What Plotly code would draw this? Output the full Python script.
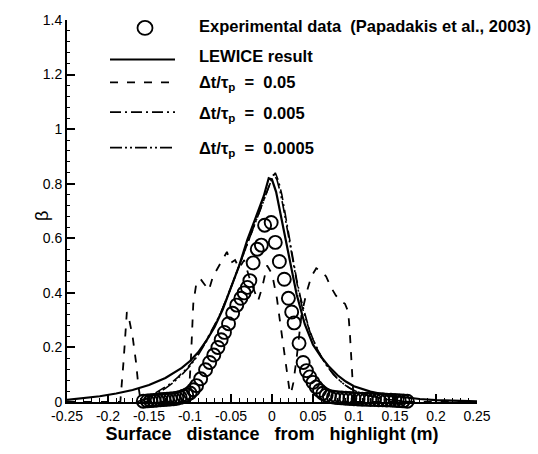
import plotly.graph_objects as go

# ---------------- data ----------------
exp_x = [-0.157, -0.152, -0.148, -0.144, -0.140, -0.136, -0.132, -0.128, -0.124, -0.120,
         -0.116, -0.112, -0.108, -0.104, -0.100, -0.096, -0.092, -0.087, -0.081, -0.076,
         -0.071, -0.066, -0.062, -0.058, -0.053, -0.048, -0.043, -0.038, -0.034, -0.030,
         -0.027, -0.023, -0.018, -0.013, -0.009, -0.001, 0.004, 0.009, 0.015, 0.020,
         0.024, 0.027, 0.033, 0.038, 0.042, 0.046, 0.050, 0.054, 0.058, 0.062,
         0.066, 0.070, 0.075, 0.080, 0.085, 0.090, 0.095, 0.100, 0.105, 0.110,
         0.115, 0.120, 0.125, 0.130, 0.135, 0.140, 0.145, 0.150, 0.155, 0.160, 0.165]
exp_y = [0.003, 0.004, 0.005, 0.006, 0.007, 0.008, 0.009, 0.010, 0.011, 0.012,
         0.014, 0.017, 0.021, 0.026, 0.033, 0.045, 0.060, 0.085, 0.118, 0.145,
         0.172, 0.200, 0.228, 0.255, 0.287, 0.325, 0.355, 0.380, 0.400, 0.420,
         0.445, 0.510, 0.560, 0.575, 0.648, 0.658, 0.585, 0.515, 0.450, 0.380,
         0.330, 0.290, 0.215, 0.145, 0.115, 0.092, 0.072, 0.055, 0.042, 0.032,
         0.025, 0.020, 0.018, 0.016, 0.015, 0.014, 0.013, 0.012, 0.011, 0.010,
         0.010, 0.009, 0.009, 0.008, 0.008, 0.007, 0.007, 0.006, 0.005, 0.004, 0.003]

lewice_x = [-0.25, -0.23, -0.21, -0.19, -0.17, -0.15, -0.13, -0.11, -0.10, -0.09,
            -0.08, -0.07, -0.06, -0.05, -0.04, -0.03, -0.02, -0.01, -0.004, 0.0,
            0.005, 0.01, 0.015, 0.02, 0.025, 0.03, 0.04, 0.05, 0.06, 0.07,
            0.08, 0.09, 0.10, 0.12, 0.14, 0.16, 0.18, 0.20, 0.22, 0.25]
lewice_y = [0.008, 0.014, 0.021, 0.031, 0.044, 0.062, 0.088, 0.125, 0.150, 0.182,
            0.225, 0.275, 0.340, 0.420, 0.500, 0.595, 0.675, 0.755, 0.820, 0.815,
            0.770, 0.700, 0.620, 0.545, 0.470, 0.395, 0.285, 0.210, 0.165, 0.128,
            0.098, 0.075, 0.058, 0.038, 0.025, 0.017, 0.011, 0.007, 0.004, 0.002]

dt05_x = [-0.25, -0.185, -0.181, -0.177, -0.174, -0.170, -0.166, -0.163, -0.160, -0.102,
          -0.099, -0.096, -0.092, -0.087, -0.082, -0.077, -0.072, -0.066, -0.060, -0.055,
          -0.050, -0.045, -0.040, -0.034, -0.028, -0.022, -0.017, -0.012, -0.006, 0.000,
          0.006, 0.010, 0.014, 0.018, 0.021, 0.023, 0.026, 0.030, 0.036, 0.042,
          0.048, 0.054, 0.060, 0.066, 0.072, 0.078, 0.084, 0.089, 0.093, 0.095,
          0.097, 0.099, 0.101, 0.25]
dt05_y = [0.0, 0.0, 0.15, 0.33, 0.30, 0.24, 0.15, 0.06, 0.0, 0.0,
          0.15, 0.36, 0.44, 0.45, 0.43, 0.41, 0.46, 0.49, 0.52, 0.55,
          0.51, 0.52, 0.49, 0.52, 0.46, 0.41, 0.37, 0.42, 0.50, 0.47,
          0.38, 0.29, 0.20, 0.11, 0.05, 0.03, 0.07, 0.16, 0.32, 0.40,
          0.46, 0.49, 0.48, 0.46, 0.42, 0.39, 0.37, 0.36, 0.33, 0.25,
          0.13, 0.04, 0.0, 0.0]

dt005_x = [-0.165, -0.155, -0.145, -0.135, -0.125, -0.115, -0.105, -0.095, -0.085, -0.075,
           -0.065, -0.055, -0.045, -0.035, -0.025, -0.015, -0.007, 0.0, 0.004, 0.008,
           0.012, 0.016, 0.020, 0.025, 0.030, 0.035, 0.040, 0.045, 0.050, 0.060,
           0.070, 0.080, 0.090, 0.100, 0.110, 0.125, 0.140, 0.155, 0.170]
dt005_y = [0.0, 0.012, 0.028, 0.045, 0.065, 0.090, 0.120, 0.155, 0.200, 0.255,
           0.310, 0.380, 0.460, 0.540, 0.620, 0.700, 0.770, 0.820, 0.840, 0.810,
           0.760, 0.690, 0.620, 0.530, 0.450, 0.380, 0.320, 0.270, 0.230, 0.165,
           0.120, 0.085, 0.060, 0.042, 0.030, 0.018, 0.010, 0.005, 0.0]

dt0005_x = [-0.160, -0.150, -0.140, -0.130, -0.120, -0.110, -0.100, -0.090, -0.080, -0.070,
            -0.060, -0.050, -0.040, -0.030, -0.020, -0.010, -0.004, 0.002, 0.006, 0.010,
            0.014, 0.018, 0.022, 0.027, 0.032, 0.037, 0.042, 0.047, 0.055, 0.065,
            0.075, 0.085, 0.095, 0.105, 0.120, 0.135, 0.150, 0.165]
dt0005_y = [0.0, 0.015, 0.032, 0.050, 0.072, 0.100, 0.132, 0.172, 0.222, 0.280,
            0.345, 0.420, 0.500, 0.580, 0.660, 0.740, 0.790, 0.835, 0.815, 0.770,
            0.710, 0.640, 0.570, 0.490, 0.410, 0.345, 0.295, 0.250, 0.195, 0.140,
            0.100, 0.072, 0.050, 0.036, 0.022, 0.012, 0.006, 0.0]

x_tickvals = [-0.25, -0.2, -0.15, -0.1, -0.05, 0, 0.05, 0.1, 0.15, 0.2, 0.25]
x_ticktext = ["-0.25", "-0.2", "-0.15", "-0.1", "-0.05", "0", "0.05", "0.1", "0.15", "0.2", "0.25"]
y_tickvals = [0, 0.2, 0.4, 0.6, 0.8, 1.0, 1.2, 1.4]
y_ticktext = ["0", "0.2", "0.4", "0.6", "0.8", "1", "1.2", "1.4"]

legend_labels = ["Experimental data  (Papadakis et al., 2003)",
                 "LEWICE result",
                 "\u0394t/\u03c4<sub>p</sub>  =  0.05",
                 "\u0394t/\u03c4<sub>p</sub>  =  0.005",
                 "\u0394t/\u03c4<sub>p</sub>  =  0.0005"]
x_title = "Surface   distance   from   highlight (m)"
y_title = "\u03b2"

# ---------------- styles ----------------
FONT = "Liberation Sans, Arial, Helvetica, sans-serif"
DASH = "8px,9px"
DASHDOT = "11px,4px,2px,4px"
DASHDOTDOT = "12px,3px,2px,3px,2px,3px"

fig = go.Figure()
fig.add_trace(go.Scatter(x=lewice_x, y=lewice_y, mode="lines",
                         line=dict(color="black", width=2.2), name=legend_labels[1]))
fig.add_trace(go.Scatter(x=dt05_x, y=dt05_y, mode="lines",
                         line=dict(color="black", width=1.8, dash=DASH), name=legend_labels[2]))
fig.add_trace(go.Scatter(x=dt005_x, y=dt005_y, mode="lines",
                         line=dict(color="black", width=1.6, dash=DASHDOT), name=legend_labels[3]))
fig.add_trace(go.Scatter(x=dt0005_x, y=dt0005_y, mode="lines",
                         line=dict(color="black", width=1.6, dash=DASHDOTDOT), name=legend_labels[4]))
fig.add_trace(go.Scatter(x=exp_x, y=exp_y, mode="markers", cliponaxis=False,
                         marker=dict(symbol="circle-open", size=13, color="black",
                                     line=dict(width=1.9, color="black")),
                         name=legend_labels[0]))

# ---------------- manual legend ----------------
L, R, T, B = 67, 61, 16, 52
W, H = 538, 454
pw, ph = W - L - R, H - T - B

def px2paper(xp, yp):
    return (xp - L) / pw, (H - B - yp) / ph

rows = [(24, 22), (56, 52), (79, 80), (109, 111), (145, 146)]
dashes = [None, "solid", DASH, DASHDOT, DASHDOTDOT]
shapes = []
annotations = []
for i, (ysym, ytxt) in enumerate(rows):
    if i == 0:
        cx, cy = px2paper(145, ysym)
        shapes.append(dict(type="circle", xref="paper", yref="paper",
                           xsizemode="pixel", ysizemode="pixel",
                           xanchor=cx, yanchor=cy, x0=-7.5, x1=7.5, y0=-7, y1=7,
                           line=dict(color="black", width=1.8)))
    else:
        x0, y0 = px2paper(110, ysym)
        x1, _ = px2paper(175, ysym)
        shapes.append(dict(type="line", xref="paper", yref="paper",
                           x0=x0, x1=x1, y0=y0, y1=y0,
                           line=dict(color="black", width=2 if i == 1 else 1.7, dash=dashes[i])))
    tx, ty = px2paper(197, ytxt)
    annotations.append(dict(text="<b>" + legend_labels[i] + "</b>", xref="paper", yref="paper",
                            x=tx, y=ty, xanchor="left", yanchor="middle", showarrow=False,
                            font=dict(family=FONT, size=16.5, color="black")))

# y-axis title (beta), placed where the reference shows it
bx, by = px2paper(42, 214)
annotations.append(dict(text=y_title, xref="paper", yref="paper", x=bx, y=by,
                        xanchor="center", yanchor="middle", showarrow=False, textangle=-90,
                        font=dict(family=FONT, size=18, color="black")))

fig.update_layout(
    width=W, height=H,
    margin=dict(l=L, r=R, t=T, b=B),
    paper_bgcolor="white", plot_bgcolor="white",
    showlegend=False,
    font=dict(family=FONT, size=14, color="black"),
    shapes=shapes, annotations=annotations,
    xaxis=dict(range=[-0.25, 0.25], tickvals=x_tickvals, ticktext=x_ticktext,
               ticks="inside", ticklen=8, tickwidth=1.5, tickcolor="black",
               minor=dict(dtick=0.01, ticks="inside", ticklen=4, tickwidth=1, tickcolor="black"),
               showline=True, linecolor="black", linewidth=2, mirror=False,
               showgrid=False, zeroline=False,
               tickfont=dict(family=FONT, size=14),
               title=dict(text="<b>" + x_title + "</b>",
                          font=dict(family=FONT, size=18), standoff=0)),
    yaxis=dict(range=[0, 1.4], tickvals=y_tickvals, ticktext=y_ticktext,
               ticks="inside", ticklen=8, tickwidth=1.5, tickcolor="black",
               minor=dict(dtick=0.04, ticks="inside", ticklen=3, tickwidth=1, tickcolor="black"),
               showline=True, linecolor="black", linewidth=2, mirror=False,
               showgrid=False, zeroline=False,
               tickfont=dict(family=FONT, size=14)),
)

fig.write_html("out.html")
